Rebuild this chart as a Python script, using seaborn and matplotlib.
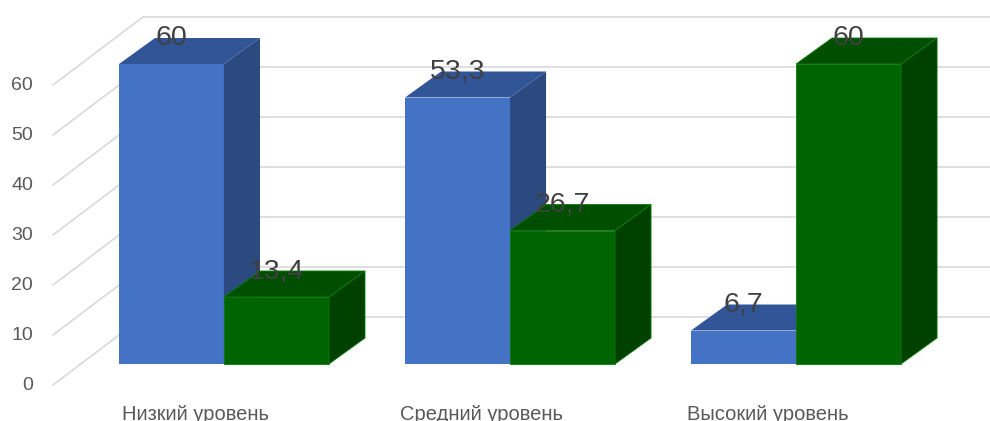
import matplotlib
matplotlib.use("Agg")
import matplotlib.pyplot as plt
from matplotlib.patches import Polygon
import seaborn as sns
import pandas as pd

# ---- data ----
categories = ["Низкий уровень", "Средний уровень", "Высокий уровень"]
series_names = ["Ряд 1", "Ряд 2"]
values_blue = [60, 53.3, 6.7]
values_green = [13.4, 26.7, 60]
y_ticks = [0, 10, 20, 30, 40, 50, 60]

df = pd.DataFrame({
    "category": categories * 2,
    "series": [series_names[0]] * 3 + [series_names[1]] * 3,
    "value": values_blue + values_green,
})

def fmt(v):
    return (f"{v:g}").replace(".", ",")

sns.set_theme(style="white")
plt.rcParams["font.family"] = ["Liberation Sans", "DejaVu Sans"]

fig = plt.figure(figsize=(9.9, 4.21), dpi=100)
ax = fig.add_axes([0, 0, 1, 1])

front = {series_names[0]: "#4472C4", series_names[1]: "#006400"}
top = {series_names[0]: "#315596", series_names[1]: "#004F00"}
side = {series_names[0]: "#2A4A80", series_names[1]: "#004100"}
edge = {series_names[0]: "none", series_names[1]: "#0B7A0B"}

sns.barplot(data=df, x="category", y="value", hue="series",
            palette=front, saturation=1, width=0.734, gap=0, legend=False,
            linewidth=0, ax=ax, zorder=2)

ax.set_xlim(-0.783, 2.678)
ax.set_ylim(-11.4, 72.8)
ax.axis("off")

# oblique depth of a bar (data units) and of the whole wall box
DX, DY = 0.126, 5.2
FY = -4.2                  # front plane height shift relative to bar front faces
BY = 9.4                   # back wall height shift relative to bar front faces
FX_LBL = -0.098            # front plane horizontal shift
WALL_FRONT_X, WALL_BACK_X = -0.598, -0.283
grid_c = "#D9D9D9"

for t in y_ticks:
    # back wall gridline
    ax.plot([WALL_BACK_X, 2.7], [t + BY, t + BY], color=grid_c, lw=1.2,
            zorder=1, solid_capstyle="butt")
    # side wall diagonal
    ax.plot([WALL_FRONT_X, WALL_BACK_X], [t + FY, t + BY], color=grid_c,
            lw=1.2, zorder=1)
    ax.text(-0.668, t + FY, str(t), ha="right", va="center",
            fontsize=14, color="#595959")

bars = ax.patches[:]
n = len(categories)
for i, p in enumerate(bars):
    s = series_names[i // n]
    val = df["value"].iloc[i]
    z = 2 + (i // n)
    p.set_zorder(z)
    p.set_edgecolor(edge[s])
    p.set_linewidth(0.6)
    x0 = p.get_x()
    x1 = x0 + p.get_width()
    h = p.get_height()
    side_poly = Polygon([(x1, 0), (x1, h), (x1 + DX, h + DY), (x1 + DX, DY)],
                        closed=True, facecolor=side[s], edgecolor=edge[s],
                        linewidth=0.6, zorder=z + 0.1)
    top_poly = Polygon([(x0, h), (x1, h), (x1 + DX, h + DY), (x0 + DX, h + DY)],
                       closed=True, facecolor=top[s], edgecolor=edge[s],
                       linewidth=0.6, zorder=z + 0.1)
    ax.add_patch(side_poly)
    ax.add_patch(top_poly)
    ax.text((x0 + x1) / 2, h + DY, fmt(val), ha="center", va="center",
            fontsize=20.5, color="#404040", zorder=10)

for i, c in enumerate(categories):
    ax.text(i + FX_LBL, -10.0, c, ha="center", va="center",
            fontsize=14.5, color="#595959", clip_on=False)

fig.savefig("out.png", dpi=100)
